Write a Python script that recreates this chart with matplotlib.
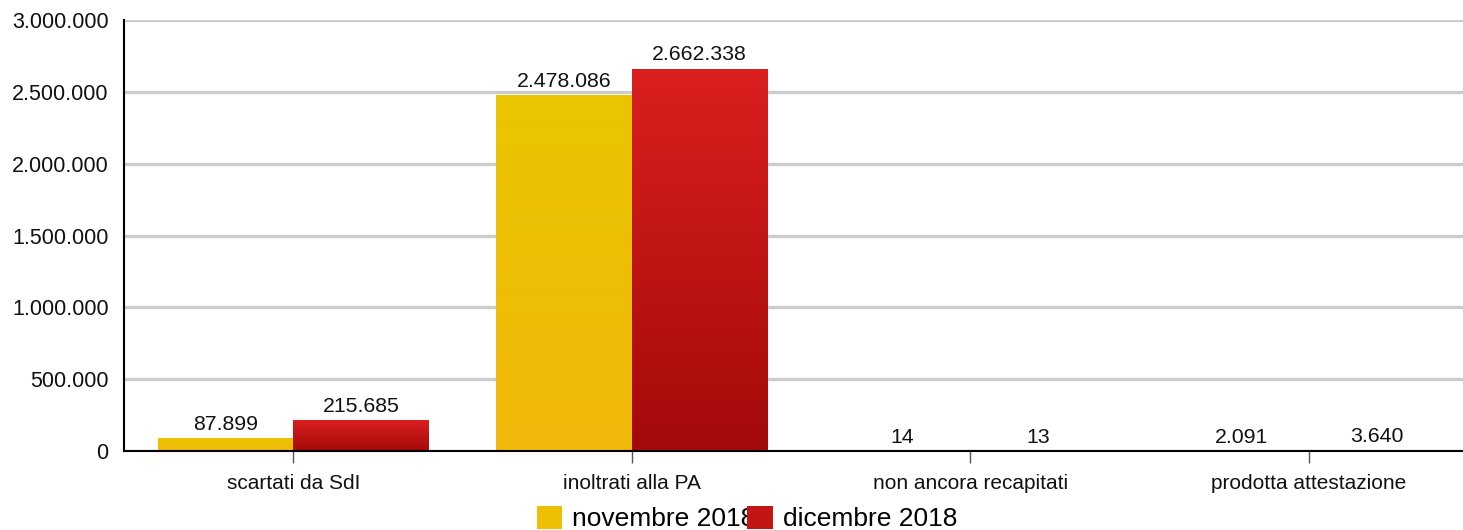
import numpy as np
import matplotlib
matplotlib.use("Agg")
import matplotlib.pyplot as plt
from matplotlib.colors import LinearSegmentedColormap
from matplotlib.patches import Patch
from matplotlib.ticker import FuncFormatter

plt.rcParams['font.family'] = ['Liberation Sans', 'DejaVu Sans']

# data
categories = ['scartati da SdI', 'inoltrati alla PA', 'non ancora recapitati', 'prodotta attestazione']
series_names = ['novembre 2018', 'dicembre 2018']
novembre = [87899, 2478086, 14, 2091]
dicembre = [215685, 2662338, 13, 3640]
yticks = [0, 500000, 1000000, 1500000, 2000000, 2500000, 3000000]

# gradient colours (top, bottom) for each series
grads = [('#EAC500', '#F1B80C'), ('#DB1F1F', '#A30A0A')]


def fmt(v, pos=None):
    return f"{int(round(v)):,}".replace(",", ".")


fig = plt.figure(figsize=(14.63, 5.30), dpi=100)
ax = fig.add_axes([124 / 1463, 79 / 530, 1354 / 1463, 431 / 530])

x = np.arange(len(categories))
width = 0.4
grad = np.linspace(1, 0, 256).reshape(-1, 1)

for i, (vals, (top, bot)) in enumerate(zip([novembre, dicembre], grads)):
    cmap = LinearSegmentedColormap.from_list(f'g{i}', [bot, top])
    offs = x - width / 2 if i == 0 else x + width / 2
    bars = ax.bar(offs, vals, width, color='none', edgecolor='none', zorder=3)
    for b, v in zip(bars, vals):
        bx, by = b.get_x(), b.get_y()
        bw, bh = b.get_width(), b.get_height()
        im = ax.imshow(grad, cmap=cmap, aspect='auto', extent=[bx, bx + bw, by, by + bh],
                       zorder=3, interpolation='bicubic')
        im.set_clip_path(b)
        ax.annotate(fmt(v), (bx + bw / 2, by + bh), xytext=(0, 3), textcoords='offset points',
                    ha='center', va='bottom', fontsize=15.3, color='#111111', zorder=5)

ax.set_xlim(-0.5, len(categories) - 0.5)
ax.set_ylim(0, 3000000)
ax.set_yticks(yticks)
ax.yaxis.set_major_formatter(FuncFormatter(fmt))
ax.set_xticks(x)
ax.set_xticklabels(categories)

ax.grid(axis='y', color='#CCCCCC', linewidth=2.4, zorder=0)
ax.set_axisbelow(True)
ax.tick_params(axis='y', length=0, pad=11, labelsize=15.5, labelcolor='#111111')
ax.tick_params(axis='x', length=8.5, width=1, color='#555555', pad=8, labelsize=15, labelcolor='#111111')

for s in ['top', 'right']:
    ax.spines[s].set_visible(False)
ax.spines['left'].set_linewidth(1.5)
ax.spines['bottom'].set_linewidth(1.5)
ax.spines['bottom'].set_zorder(4)

handles = [Patch(facecolor='#EEC005', label=series_names[0]),
           Patch(facecolor='#C41515', label=series_names[1])]
fig.legend(handles=handles, loc='upper left', bbox_to_anchor=(537 / 1463, 1 - 506 / 530),
           ncol=2, frameon=False, fontsize=19, handlelength=0.95, handleheight=0.95,
           handletextpad=0.38, columnspacing=-0.3, borderpad=0, borderaxespad=0)

fig.savefig('out.png', dpi=100)
